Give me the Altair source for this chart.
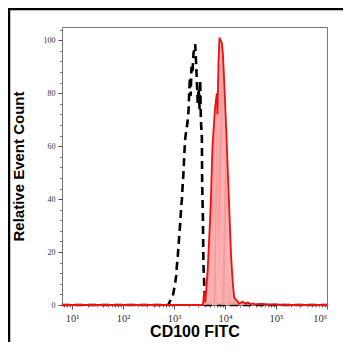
import altair as alt
import pandas as pd
import numpy as np

# Isotype control (black dashed), x in log10 decades, y in % of max
neg_x = [0.8, 2.89, 2.93, 2.976, 3.0, 3.022, 3.04, 3.055, 3.07, 3.086, 3.10, 3.12, 3.135, 3.153,
         3.17, 3.184, 3.198, 3.218, 3.24, 3.263, 3.282, 3.296, 3.31, 3.325, 3.34, 3.36, 3.38,
         3.40, 3.414, 3.43, 3.443, 3.463, 3.482, 3.50, 3.512, 3.525, 3.545, 3.548, 3.551,
         3.565, 3.576, 3.596, 3.61, 6.0]
neg_y = [0, 0, 2, 3.5, 6, 8.5, 11, 15, 18, 22, 26, 31, 36, 40,
         46, 50, 56, 63, 66, 69, 73, 80, 86, 79, 90, 88, 95,
         97, 98.5, 92, 86, 76, 82, 74, 85, 70, 63, 53, 45,
         33, 15, 5, 0, 0]

# CD100 FITC stained (red filled)
pos_x = [0.8, 3.565, 3.59, 3.61, 3.639, 3.66, 3.675, 3.70, 3.722, 3.74, 3.753, 3.78, 3.806,
         3.839, 3.851, 3.871, 3.890, 3.91, 3.937, 3.957, 3.982, 4.01, 4.035, 4.055, 4.075,
         4.095, 4.114, 4.135, 4.153, 4.178, 4.21, 4.243, 4.27, 4.3, 4.35, 4.4, 4.45, 4.5,
         4.55, 4.6, 4.7, 4.8, 4.9, 5.0, 5.2, 6.0]
pos_y = [0, 0, 5, 1, 8, 14, 20, 30, 40, 52, 60, 68, 75,
         80, 72, 92, 101, 100, 99, 95, 85, 72, 60, 50, 40,
         30, 20, 13, 8, 3, 2, 1.5, 0.5, 0.8, 1.2, 0.5, 0.9, 0.3,
         0.6, 0.2, 0.4, 0.3, 0.1, 0.2, 0, 0]

x_major = [1, 2, 3, 4, 5, 6]
y_major = [0, 20, 40, 60, 80, 100]

neg = pd.DataFrame({"x": neg_x, "y": neg_y, "i": range(len(neg_x))})
pos = pd.DataFrame({"x": pos_x, "y": pos_y, "i": range(len(pos_x))})

x_minor = [round(n + np.log10(k), 4) for n in range(0, 6) for k in range(2, 10)
           if 0.8 <= n + np.log10(k) <= 6]
y_minor = [v for v in range(0, 105, 4) if v % 20 != 0]

xs = alt.Scale(domain=[0.8, 6.0], nice=False, zero=False)
ys = alt.Scale(domain=[0, 105], nice=False, zero=False)

sup = "['⁰','¹','²','³','⁴','⁵','⁶'][datum.value]"

x_axis = alt.Axis(values=x_major, orient="bottom", labelExpr="'10' + " + sup,
                  title="CD100 FITC", titleFont="Liberation Sans", titleFontSize=16,
                  titleFontWeight="bold", titleColor="black", titlePadding=0,
                  labelFont="Liberation Serif", labelFontSize=10.5, labelColor="#333",
                  labelPadding=4, tickSize=4, tickColor="#555", domain=False,
                  grid=False, labelFlush=True)
y_axis = alt.Axis(values=y_major, orient="left", title="Relative Event Count",
                  titleFont="Liberation Sans", titleFontSize=15, titleFontWeight="bold",
                  titleColor="black", titlePadding=17,
                  labelFont="Liberation Serif", labelFontSize=8, labelColor="#333",
                  labelPadding=3, tickSize=4, tickColor="#555", domain=False, grid=False)

x_axis_minor = alt.Axis(values=x_minor, orient="bottom", labels=False, title=None,
                        tickSize=2, tickColor="#777", domain=False, grid=False)
y_axis_minor = alt.Axis(values=y_minor, orient="left", labels=False, title=None,
                        tickSize=2.5, tickColor="#777", domain=False, grid=False)

minor = alt.Chart(neg).mark_point(opacity=0).encode(
    x=alt.X("x:Q", scale=xs, axis=x_axis_minor),
    y=alt.Y("y:Q", scale=ys, axis=y_axis_minor),
)

black = alt.Chart(neg).mark_line(color="black", strokeWidth=2.6, strokeDash=[8, 5]).encode(
    x=alt.X("x:Q", scale=xs, axis=x_axis),
    y=alt.Y("y:Q", scale=ys, axis=y_axis),
    order="i:Q",
)

red_area = alt.Chart(pos).mark_area(color="#f79a9a", opacity=1).encode(
    x=alt.X("x:Q", scale=xs, axis=None), y=alt.Y("y:Q", scale=ys, axis=None), order="i:Q")
red_line = alt.Chart(pos).mark_line(color="#ee1111", strokeWidth=1.8).encode(
    x=alt.X("x:Q", scale=xs, axis=None), y=alt.Y("y:Q", scale=ys, axis=None), order="i:Q")

one = pd.DataFrame({"a": [0]})
frame_left = alt.Chart(one).mark_rule(color="black", strokeWidth=2.5, clip=False).encode(
    x=alt.value(-53), y=alt.value(-19), y2=alt.value(400))
frame_top = alt.Chart(one).mark_rule(color="black", strokeWidth=2.5, clip=False).encode(
    y=alt.value(-18), x=alt.value(-54), x2=alt.value(400))

chart = alt.layer(frame_left, frame_top, minor, black, red_area, red_line).resolve_axis(
    x="independent", y="independent"
).properties(
    width=265, height=278,
    autosize=alt.AutoSizeParams(type="none"),
    padding={"left": 54, "top": 19, "right": 16, "bottom": 37},
).configure_view(stroke="#777", strokeWidth=1)

chart.save("out.html", embed_options={"renderer": "svg", "actions": False})
